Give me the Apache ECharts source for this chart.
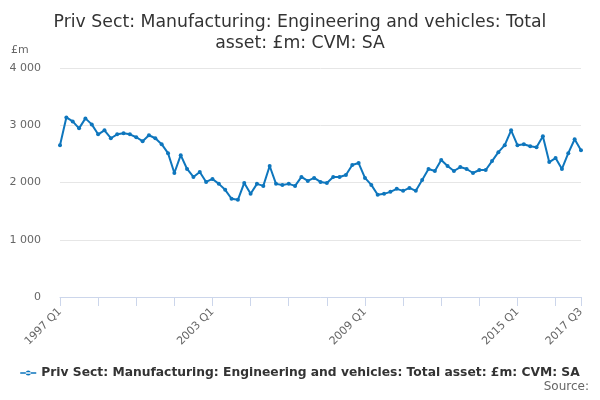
<!DOCTYPE html>
<html>
<head>
    <meta charset="utf-8">
    <title>ECharts</title>
    <script src="https://cdn.jsdelivr.net/npm/echarts@6/dist/echarts.min.js"></script>
    <style>
        html, body, #main {
            width: 100%;
            height: 100%;
            margin: 0;
            background: #fff;
        }
    </style>
</head>
<body>
    <div id="main"></div>
    <script type="text/javascript">
        // quarters 1997 Q1 .. 2017 Q3
        var years = [];
        for (var y = 1997; y <= 2017; y++) years.push(y);
        var quarters = [];
        years.forEach(function (yr) {
            for (var q = 1; q <= 4; q++) {
                if (yr === 2017 && q > 3) break;
                quarters.push(yr + ' Q' + q);
            }
        });

        var values = [
            2650, 3137, 3067, 2946, 3120, 3015, 2842, 2911,
            2773, 2842, 2860, 2842, 2790, 2721, 2825, 2773,
            2669, 2513, 2166, 2478, 2236, 2097, 2184, 2010,
            2062, 1976, 1872, 1716, 1698, 1993, 1802, 1976,
            1941, 2288, 1976, 1958, 1976, 1941, 2097, 2028,
            2080, 2010, 1993, 2097, 2097, 2132, 2305, 2340,
            2080, 1958, 1785, 1802, 1837, 1889, 1854, 1906,
            1854, 2045, 2236, 2201, 2392, 2288, 2201, 2270,
            2236, 2166, 2218, 2218, 2374, 2530, 2652, 2911,
            2652, 2669, 2634, 2617, 2808, 2357, 2426, 2236,
            2513, 2756, 2565
        ];

        var yTicks = [0, 1000, 2000, 3000, 4000];
        var seriesName = 'Priv Sect: Manufacturing: Engineering and vehicles: Total asset: £m: CVM: SA';
        var lastIdx = quarters.length - 1;

        var myChart = echarts.init(document.getElementById('main'));
        var font = 'DejaVu Sans';
        var option = {
            textStyle: { fontFamily: font },
            title: {
                text: 'Priv Sect: Manufacturing: Engineering and vehicles: Total\nasset: £m: CVM: SA',
                left: 'center',
                top: 7,
                textStyle: { fontFamily: font, fontSize: 17.3, fontWeight: 'normal', color: '#333', lineHeight: 21 }
            },
            graphic: [
                { type: 'text', left: 11, top: 45, style: { text: '£m', fontFamily: font, fontSize: 11, fill: '#666' } },
                { type: 'text', right: 11, top: 381, style: { text: 'Source:', fontFamily: font, fontSize: 12, fill: '#666' } }
            ],
            legend: {
                bottom: 16,
                left: 'center',
                itemWidth: 16,
                itemHeight: 8,
                itemGap: 6,
                textStyle: { fontFamily: font, fontSize: 12.3, fontWeight: 'bold', color: '#333' },
                data: [{ name: seriesName, icon: 'path://M0,4 L16,4 L16,5.5 L0,5.5 Z M5.5,4.75 A2.5,2.5 0 1 0 10.5,4.75 A2.5,2.5 0 1 0 5.5,4.75 Z' }]
            },
            grid: { left: 60, right: 19, top: 68, bottom: 103 },
            xAxis: {
                type: 'category',
                data: quarters,
                boundaryGap: false,
                axisLine: { lineStyle: { color: '#ccd6eb' } },
                axisTick: {
                    length: 9,
                    lineStyle: { color: '#ccd6eb' },
                    interval: function (i) { return i % 6 === 0 || i === lastIdx; }
                },
                axisLabel: {
                    rotate: 45,
                    color: '#666',
                    fontSize: 11,
                    margin: 13,
                    interval: function (i) { return i % 24 === 0 || i === lastIdx; }
                },
                splitLine: { show: false }
            },
            yAxis: {
                type: 'value',
                min: yTicks[0],
                max: yTicks[yTicks.length - 1],
                interval: 1000,
                axisLine: { show: false },
                axisTick: { show: false },
                axisLabel: {
                    color: '#666',
                    fontSize: 11,
                    margin: 19,
                    formatter: function (v) { return String(v).replace(/\B(?=(\d{3})+(?!\d))/g, ' '); }
                },
                splitLine: { lineStyle: { color: '#e6e6e6' } }
            },
            series: [{
                name: seriesName,
                type: 'line',
                data: values,
                symbol: 'circle',
                symbolSize: 4,
                showAllSymbol: true,
                itemStyle: { color: '#0e76bd' },
                lineStyle: { width: 2, color: '#0e76bd' }
            }]
        };
        myChart.setOption(option);
        window.onresize = myChart.resize;
    </script>
</body>
</html>
